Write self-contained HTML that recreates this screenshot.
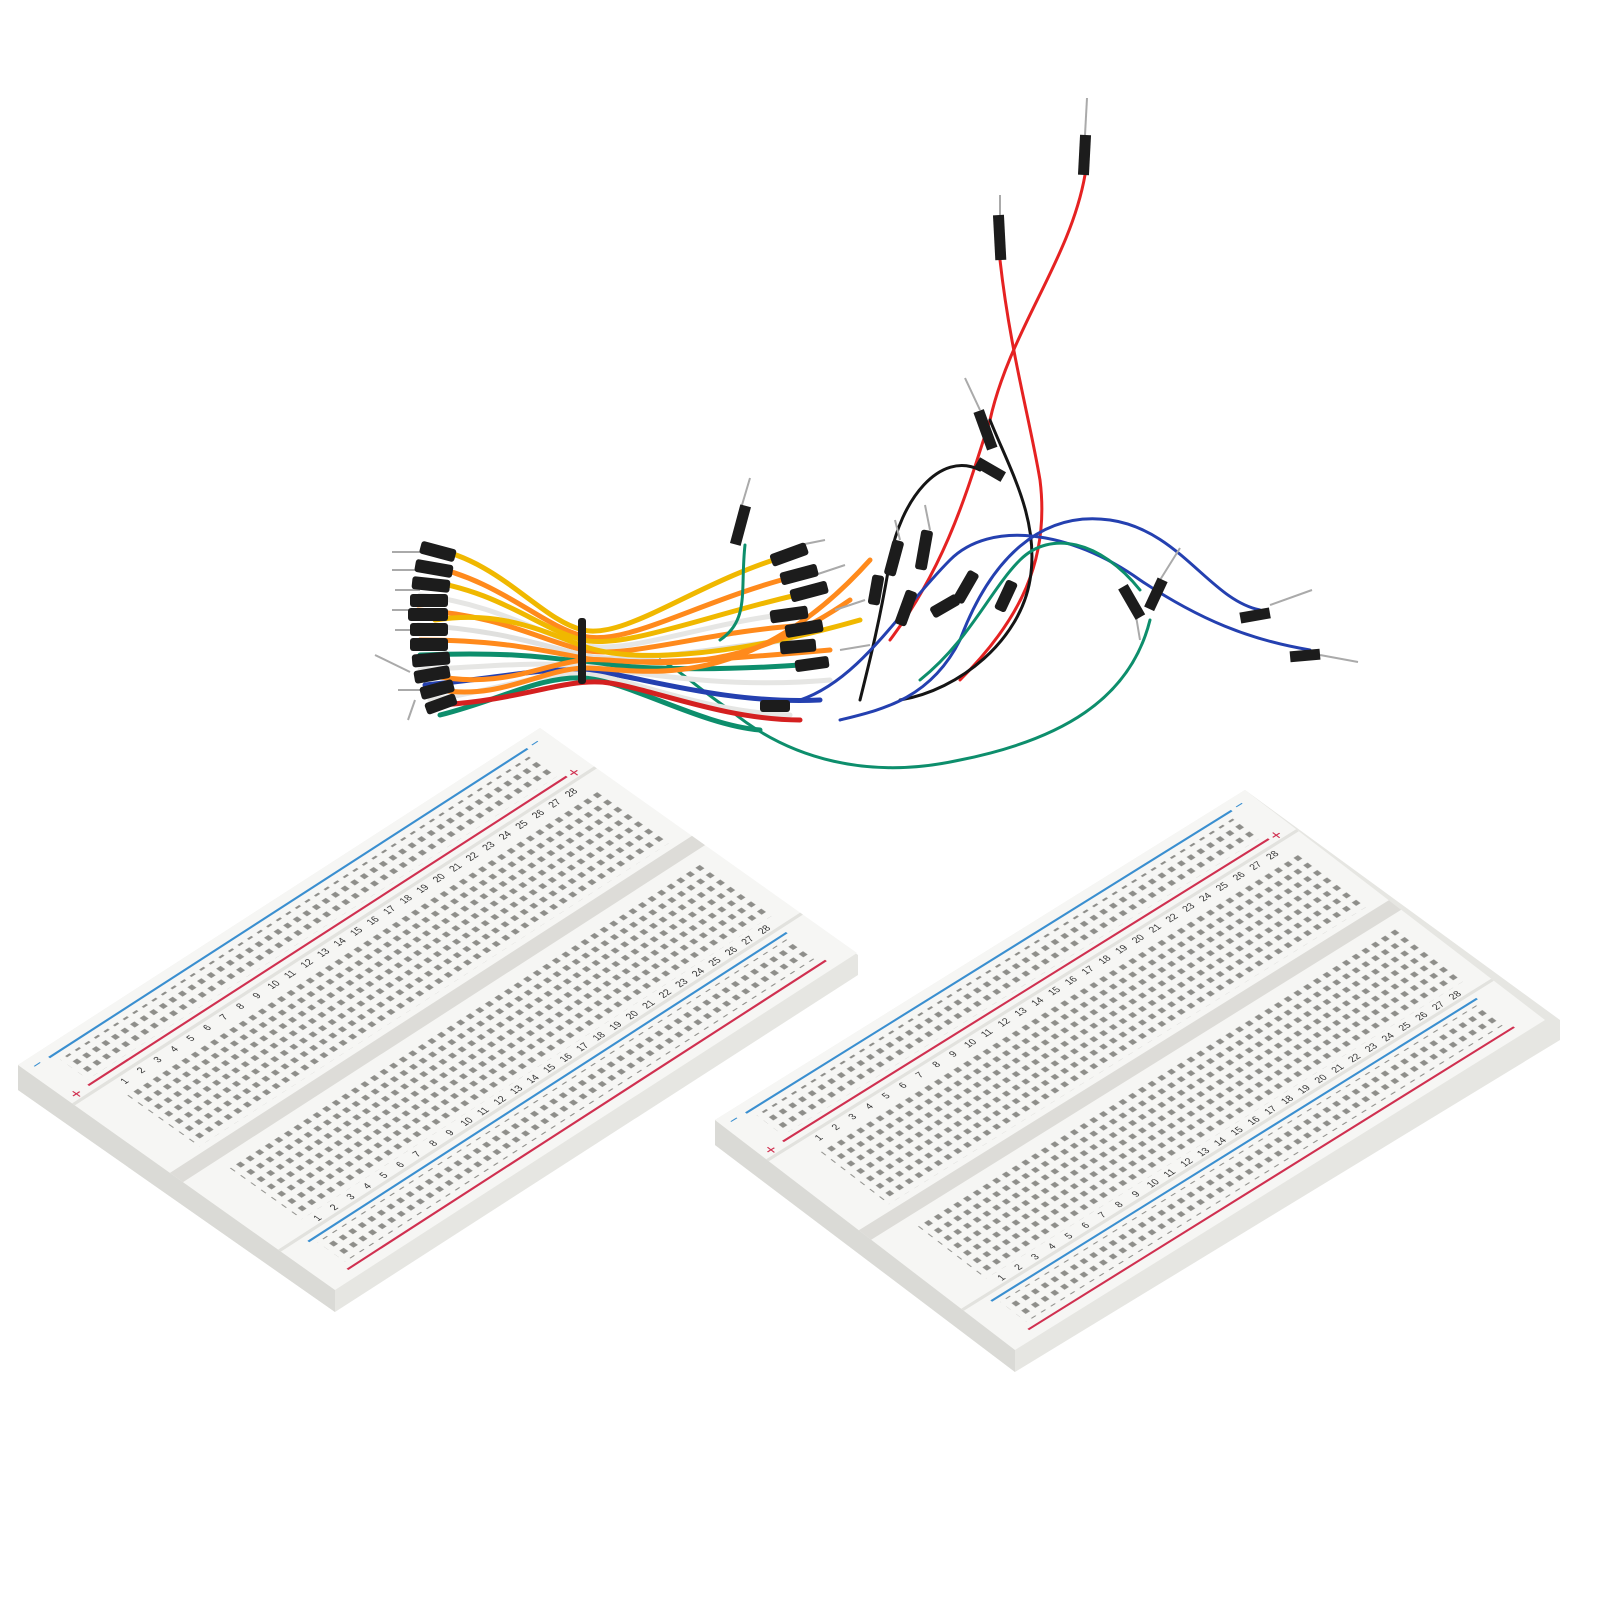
<!DOCTYPE html>
<html><head><meta charset="utf-8"><style>
html,body{margin:0;padding:0;background:#fff}
svg{display:block}
text{font-family:"Liberation Sans",sans-serif}
</style></head><body>
<svg width="1600" height="1600" viewBox="0 0 1600 1600" xmlns="http://www.w3.org/2000/svg">
<defs>
<pattern id="h" patternUnits="userSpaceOnUse" width="11" height="11">
<rect x="3" y="3" width="5" height="5" fill="#8e8e8a"/>
</pattern>
<g id="board">
 <rect x="0" y="0" width="600" height="340" fill="#f6f6f4"/>
 <rect x="0" y="58" width="600" height="3" fill="#e2e2de"/>
 <rect x="0" y="163" width="600" height="14" fill="#dddcd8"/>
 <rect x="0" y="279" width="600" height="3" fill="#e2e2de"/>
 <rect x="30" y="17" width="540" height="30" fill="url(#h)"/>
 <rect x="40" y="75" width="545" height="82" fill="url(#h)"/>
 <rect x="40" y="185" width="545" height="82" fill="url(#h)"/>
 <rect x="30" y="293" width="540" height="30" fill="url(#h)"/>
 <line x1="25" y1="10" x2="575" y2="10" stroke="#3a8fd0" stroke-width="2"/>
 <line x1="25" y1="52" x2="575" y2="52" stroke="#d03050" stroke-width="2"/>
 <line x1="25" y1="288" x2="575" y2="288" stroke="#3a8fd0" stroke-width="2"/>
 <line x1="25" y1="330" x2="575" y2="330" stroke="#d03050" stroke-width="2"/>
 <text x="8" y="14" font-size="14" fill="#3a8fd0">−</text>
 <text x="6" y="58" font-size="16" fill="#d03050">+</text>
 <text x="580" y="14" font-size="14" fill="#3a8fd0">−</text>
 <text x="578" y="58" font-size="16" fill="#d03050">+</text>
 <g font-size="9" fill="#333">
  <text x="48" y="70">1</text><text x="67" y="70">2</text><text x="86" y="70">3</text><text x="105" y="70">4</text><text x="124" y="70">5</text><text x="143" y="70">6</text><text x="162" y="70">7</text><text x="181" y="70">8</text><text x="200" y="70">9</text><text x="217" y="70">10</text><text x="236" y="70">11</text><text x="255" y="70">12</text><text x="274" y="70">13</text><text x="293" y="70">14</text><text x="312" y="70">15</text><text x="331" y="70">16</text><text x="350" y="70">17</text><text x="369" y="70">18</text><text x="388" y="70">19</text><text x="407" y="70">20</text><text x="426" y="70">21</text><text x="445" y="70">22</text><text x="464" y="70">23</text><text x="483" y="70">24</text><text x="502" y="70">25</text><text x="521" y="70">26</text><text x="540" y="70">27</text><text x="559" y="70">28</text>
  <text x="48" y="277">1</text><text x="67" y="277">2</text><text x="86" y="277">3</text><text x="105" y="277">4</text><text x="124" y="277">5</text><text x="143" y="277">6</text><text x="162" y="277">7</text><text x="181" y="277">8</text><text x="200" y="277">9</text><text x="217" y="277">10</text><text x="236" y="277">11</text><text x="255" y="277">12</text><text x="274" y="277">13</text><text x="293" y="277">14</text><text x="312" y="277">15</text><text x="331" y="277">16</text><text x="350" y="277">17</text><text x="369" y="277">18</text><text x="388" y="277">19</text><text x="407" y="277">20</text><text x="426" y="277">21</text><text x="445" y="277">22</text><text x="464" y="277">23</text><text x="483" y="277">24</text><text x="502" y="277">25</text><text x="521" y="277">26</text><text x="540" y="277">27</text><text x="559" y="277">28</text>
 </g>
</g>
</defs>
<rect width="1600" height="1600" fill="#fff"/>
<!-- left board thickness -->
<polygon points="18,1065 540,728 858,955 858,975 335,1312 18,1090" fill="#e6e6e2"/>
<polygon points="18,1065 335,1290 335,1312 18,1090" fill="#dadad6"/>
<g transform="matrix(0.87,-0.5617,0.9324,0.6618,18,1065)"><use href="#board"/></g>
<!-- right board thickness -->
<polygon points="715,1120 1245,790 1560,1020 1560,1040 1015,1372 715,1145" fill="#e6e6e2"/>
<polygon points="715,1120 1015,1350 1015,1372 715,1145" fill="#dadad6"/>
<g transform="matrix(0.8833,-0.55,0.8824,0.6765,715,1120)"><use href="#board"/></g>

<!-- wires -->
<g fill="none" stroke-linecap="round">
 <path d="M1085,175 C1070,260 1010,330 990,420 C970,480 950,560 890,640" stroke="#e52222" stroke-width="3"/>
 <path d="M1000,260 C1010,350 1030,420 1040,480 C1050,560 1020,620 960,680" stroke="#e52222" stroke-width="3"/>
 <path d="M980,470 C940,450 900,500 890,560 C880,620 870,660 860,700" stroke="#151515" stroke-width="3"/>
 <path d="M990,420 C1010,470 1040,520 1030,580 C1020,640 960,690 900,700" stroke="#151515" stroke-width="3"/>
 <path d="M1260,610 C1210,600 1180,530 1110,520 C1040,510 990,560 960,640 C930,700 880,710 840,720" stroke="#2440b0" stroke-width="3"/>
 <path d="M1310,650 C1250,640 1200,620 1140,580 C1070,530 990,520 950,560 C900,610 860,680 800,700" stroke="#2440b0" stroke-width="3"/>
 <path d="M1150,620 C1130,700 1060,740 960,760 C870,780 790,760 730,710 C700,690 680,670 660,660" stroke="#0d8e6c" stroke-width="3"/>
 <path d="M1140,590 C1100,540 1050,530 1020,560 C990,590 970,640 920,680" stroke="#0d8e6c" stroke-width="3"/>
 <g stroke-width="5">
  <path d="M430,548 C500,560 540,620 583,630 S700,580 790,555" stroke="#f0b800"/>
  <path d="M425,565 C500,580 540,625 583,636 S700,600 800,575" stroke="#ff8a1c"/>
  <path d="M420,580 C500,590 540,630 583,640 S720,610 820,590" stroke="#f0b800"/>
  <path d="M420,595 C500,605 540,635 583,645 S700,625 780,615" stroke="#e6e6e4"/>
  <path d="M418,610 C500,615 540,640 583,650 S710,630 810,625" stroke="#ff8a1c"/>
  <path d="M418,625 C500,630 540,645 583,655 S700,650 790,640" stroke="#e0e0de"/>
  <path d="M420,640 C500,640 540,650 583,658 S720,660 830,650" stroke="#ff8a1c"/>
  <path d="M420,655 C500,652 540,656 583,662 S700,672 800,665" stroke="#0d8e6c"/>
  <path d="M420,670 C500,665 540,662 583,666 S720,690 830,680" stroke="#e6e6e4"/>
  <path d="M425,685 C500,678 540,668 583,670 S720,705 820,700" stroke="#2440b0"/>
  <path d="M430,700 C500,690 540,672 583,674 S700,712 790,715" stroke="#e6e6e4"/>
  <path d="M440,715 C500,700 540,676 583,678 S700,725 760,730" stroke="#0d8e6c"/>
  <path d="M435,620 C500,610 540,630 583,646 S720,660 860,620" stroke="#f0b800"/>
  <path d="M430,675 C500,690 540,665 583,660 S720,690 850,600" stroke="#ff8a1c"/>
  <path d="M440,690 C500,700 540,670 583,668 S740,705 870,560" stroke="#ff8a1c"/>
  <path d="M440,705 C520,700 560,680 600,682 S720,720 800,720" stroke="#d42020"/>
  <path d="M745,545 C740,590 750,620 720,640" stroke="#0d8e6c" stroke-width="3"/>
 </g>
</g>
<!-- pin leads -->
<g stroke="#aaa" stroke-width="2">
 <line x1="1087" y1="98" x2="1085" y2="135"/>
 <line x1="1000" y1="195" x2="1000" y2="215"/>
 <line x1="965" y1="378" x2="980" y2="410"/>
 <line x1="750" y1="478" x2="742" y2="505"/>
 <line x1="1312" y1="590" x2="1270" y2="605"/>
 <line x1="1358" y1="662" x2="1320" y2="655"/>
 <line x1="1180" y1="548" x2="1160" y2="580"/>
 <line x1="1140" y1="640" x2="1135" y2="610"/>
 <line x1="375" y1="655" x2="410" y2="672"/>
 <line x1="392" y1="552" x2="420" y2="552"/><line x1="392" y1="570" x2="420" y2="570"/>
 <line x1="395" y1="590" x2="420" y2="590"/><line x1="392" y1="610" x2="418" y2="610"/>
 <line x1="395" y1="630" x2="418" y2="630"/><line x1="398" y1="690" x2="420" y2="690"/>
 <line x1="408" y1="720" x2="415" y2="700"/>
 <line x1="800" y1="545" x2="825" y2="540"/><line x1="815" y1="575" x2="845" y2="565"/>
 <line x1="835" y1="610" x2="865" y2="600"/><line x1="840" y1="650" x2="870" y2="645"/>
 <line x1="895" y1="520" x2="900" y2="540"/><line x1="925" y1="505" x2="930" y2="530"/>
</g>
<!-- pin housings -->
<g fill="#1c1c1c">
 <rect x="1079" y="135" width="11" height="40" transform="rotate(3 1085 155)"/>
 <rect x="994" y="215" width="11" height="45" transform="rotate(-3 1000 235)"/>
 <rect x="980" y="410" width="11" height="40" transform="rotate(-20 985 430)"/>
 <rect x="985" y="455" width="11" height="30" transform="rotate(-60 990 470)"/>
 <rect x="735" y="505" width="11" height="40" transform="rotate(15 740 525)"/>
 <rect x="1250" y="600" width="11" height="30" transform="rotate(80 1255 615)"/>
 <rect x="1300" y="640" width="11" height="30" transform="rotate(85 1305 655)"/>
 <rect x="1150" y="578" width="11" height="32" transform="rotate(25 1155 595)"/>
 <rect x="1125" y="585" width="11" height="35" transform="rotate(-30 1130 600)"/>
 <rect x="578" y="618" width="8" height="66" rx="3"/>
 <!-- left bundle ends -->
 <rect x="420" y="545" width="36" height="13" rx="3" transform="rotate(15 438 551)"/>
 <rect x="415" y="562" width="38" height="13" rx="3" transform="rotate(10 434 568)"/>
 <rect x="412" y="578" width="38" height="13" rx="3" transform="rotate(6 431 584)"/>
 <rect x="410" y="594" width="38" height="13" rx="3"/>
 <rect x="408" y="608" width="40" height="13" rx="3"/>
 <rect x="410" y="623" width="38" height="13" rx="3"/>
 <rect x="410" y="638" width="38" height="13" rx="3"/>
 <rect x="412" y="653" width="38" height="13" rx="3" transform="rotate(-5 431 659)"/>
 <rect x="414" y="668" width="36" height="13" rx="3" transform="rotate(-10 432 674)"/>
 <rect x="420" y="683" width="34" height="13" rx="3" transform="rotate(-15 437 689)"/>
 <rect x="425" y="698" width="32" height="12" rx="3" transform="rotate(-20 441 704)"/>
 <!-- right bundle ends -->
 <rect x="770" y="548" width="38" height="13" rx="3" transform="rotate(-20 789 554)"/>
 <rect x="780" y="568" width="38" height="13" rx="3" transform="rotate(-15 799 574)"/>
 <rect x="790" y="585" width="38" height="13" rx="3" transform="rotate(-15 809 591)"/>
 <rect x="770" y="608" width="38" height="13" rx="3" transform="rotate(-8 789 614)"/>
 <rect x="785" y="622" width="38" height="13" rx="3" transform="rotate(-10 804 628)"/>
 <rect x="780" y="640" width="36" height="13" rx="3" transform="rotate(-5 798 646)"/>
 <rect x="795" y="658" width="34" height="12" rx="3" transform="rotate(-8 812 664)"/>
 <rect x="760" y="700" width="30" height="12" rx="3"/>
 <rect x="888" y="540" width="12" height="36" rx="3" transform="rotate(15 894 558)"/>
 <rect x="918" y="530" width="12" height="40" rx="3" transform="rotate(10 924 550)"/>
 <rect x="900" y="590" width="12" height="36" rx="3" transform="rotate(20 906 608)"/>
 <rect x="870" y="575" width="12" height="30" rx="3" transform="rotate(10 876 590)"/>
 <rect x="930" y="600" width="30" height="12" rx="3" transform="rotate(-30 945 606)"/>
 <rect x="960" y="570" width="12" height="34" rx="3" transform="rotate(30 966 587)"/>
 <rect x="1000" y="580" width="12" height="32" rx="3" transform="rotate(25 1006 596)"/>
</g>
</svg>
</body></html>
